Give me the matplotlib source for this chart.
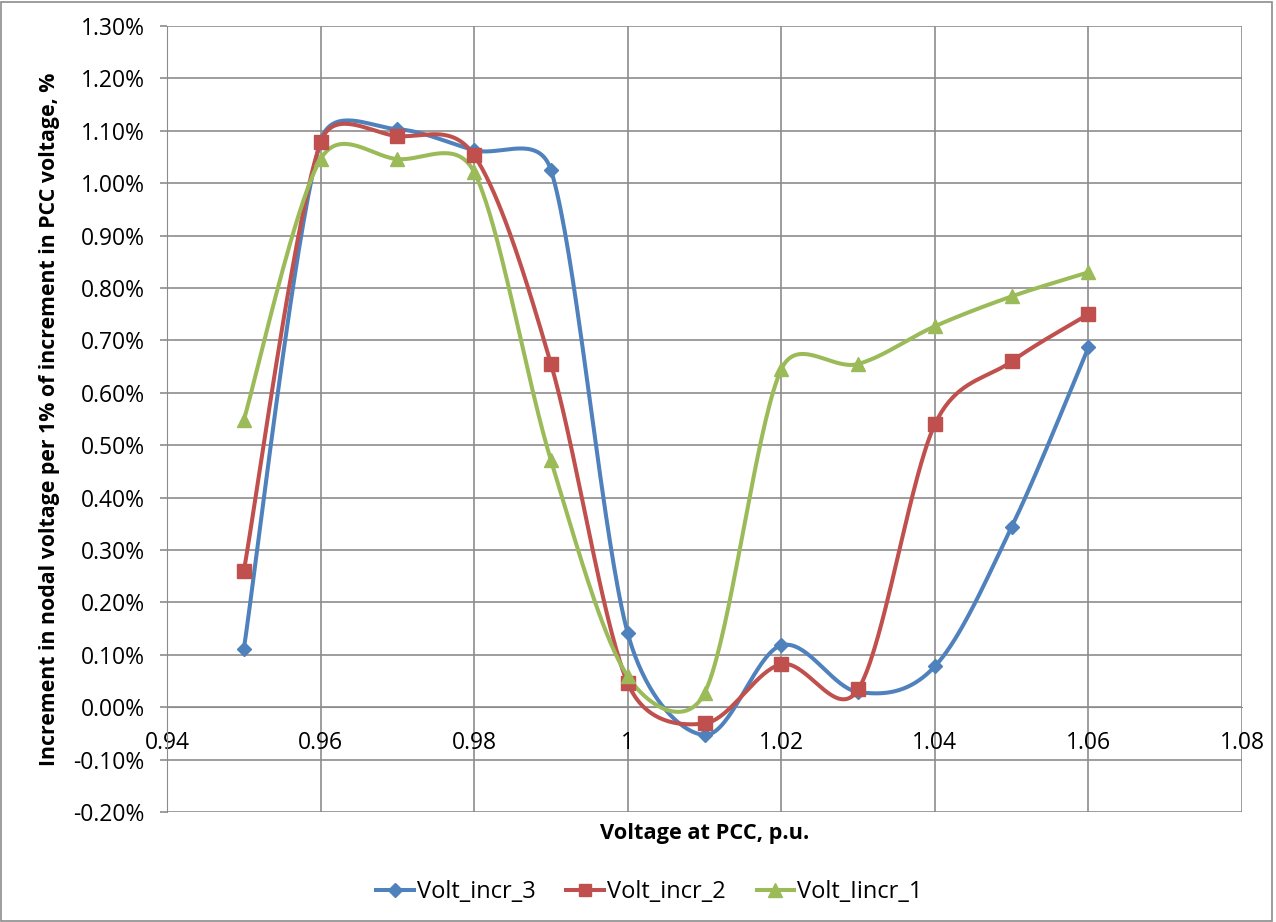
import numpy as np
import matplotlib.pyplot as plt
from matplotlib.ticker import FuncFormatter, MultipleLocator
from matplotlib.patches import Rectangle

plt.rcParams['font.family'] = ['Open Sans', 'DejaVu Sans']

# PCC voltage (p.u.)
v_pcc = [0.95, 0.96, 0.97, 0.98, 0.99, 1.00, 1.01, 1.02, 1.03, 1.04, 1.05, 1.06]

# nodal voltage increment, % per 1% of PCC increment
volt_incr_3 = [0.111, 1.080, 1.103, 1.063, 1.025, 0.141, -0.053, 0.118, 0.029, 0.078, 0.344, 0.687]
volt_incr_2 = [0.260, 1.078, 1.090, 1.053, 0.655, 0.046, -0.031, 0.082, 0.034, 0.540, 0.660, 0.750]
volt_iincr_1 = [0.548, 1.046, 1.046, 1.021, 0.471, 0.059, 0.027, 0.645, 0.655, 0.727, 0.784, 0.830]

series_names = ['Volt_incr_3', 'Volt_incr_2', 'Volt_Iincr_1']
colors = ['#4F81BD', '#C0504D', '#9BBB59']
markers = ['D', 's', '^']
msizes = [7.5, 9.5, 10]


def smooth(ax, x, y, n=40):
    # smoothed line made of cubic Beziers, built in display space so the
    # tangent handles can be capped at half of the segment length
    pts = ax.transData.transform(np.column_stack([x, y]))
    ext = np.vstack([pts[0], pts, pts[-1]])
    t = np.linspace(0, 1, n)[:, None]
    out = []
    for i in range(len(pts) - 1):
        p0, p1, p2, p3 = ext[i], ext[i + 1], ext[i + 2], ext[i + 3]
        seg = np.hypot(*(p2 - p1))
        h1 = (p2 - p0) / 6
        h2 = (p3 - p1) / 6
        for h in (h1, h2):
            ln = np.hypot(*h)
            if ln > 0.5 * seg:
                h *= 0.5 * seg / ln
        c1 = p1 + h1
        c2 = p2 - h2
        b = (1 - t) ** 3 * p1 + 3 * (1 - t) ** 2 * t * c1 + 3 * (1 - t) * t ** 2 * c2 + t ** 3 * p2
        out.append(b)
    out = ax.transData.inverted().transform(np.vstack(out))
    return out[:, 0], out[:, 1]


fig = plt.figure(figsize=(12.76, 9.22), dpi=100)
ax = fig.add_axes([0.1309, 0.1193, 0.8425, 0.8525])
ax.set_xlim(0.94, 1.08)
ax.set_ylim(-0.2, 1.3)

for vals, name, c, m, ms in zip([volt_incr_3, volt_incr_2, volt_iincr_1],
                                series_names, colors, markers, msizes):
    sx, sy = smooth(ax, v_pcc, vals)
    ax.plot(sx, sy, color=c, lw=2.9, solid_capstyle='round', zorder=3)
    ax.plot(v_pcc, vals, linestyle='none', marker=m, ms=ms, color=c, zorder=4)
    ax.plot([], [], color=c, lw=2.9, marker=m, ms=ms * 0.95, label=name)

ax.xaxis.set_major_locator(MultipleLocator(0.02))
ax.yaxis.set_major_locator(MultipleLocator(0.1))
ax.yaxis.set_major_formatter(FuncFormatter(lambda v, p: f'{v:.2f}%'))
ax.xaxis.set_major_formatter(FuncFormatter(lambda v, p: f'{v:g}'))

ax.grid(True, color='#8c8c8c', lw=1.2)
ax.set_axisbelow(True)
for s in ['top', 'right']:
    ax.spines[s].set_visible(False)
ax.spines['left'].set_color('#8c8c8c')
ax.spines['bottom'].set_color('#8c8c8c')
ax.spines['bottom'].set_position(('data', 0))
ax.tick_params(axis='both', colors='#8c8c8c', labelcolor='black', labelsize=16.5,
               width=1.2)
ax.tick_params(axis='y', length=5, pad=11)
ax.tick_params(axis='x', length=0, pad=17)

ax.set_xlabel('Voltage at PCC, p.u.', fontsize=15.7, fontweight='bold', labelpad=0)
ax.xaxis.set_label_coords(0.5, -0.014)
ax.set_ylabel('Increment in nodal voltage per 1% of increment in PCC voltage, %',
              fontsize=15.3, fontweight='bold')
ax.yaxis.set_label_coords(-0.1, 0.5)

fig.legend(loc='center', bbox_to_anchor=(0.509, 0.0325), ncol=3, frameon=False,
           fontsize=17, handlelength=1.6, columnspacing=1.3, handletextpad=0.13)

fig.patches.append(Rectangle((0.001, 0.001), 0.996, 0.997, transform=fig.transFigure,
                             fill=False, edgecolor='#8c8c8c', lw=1.2))

fig.savefig('out.png', dpi=100)
